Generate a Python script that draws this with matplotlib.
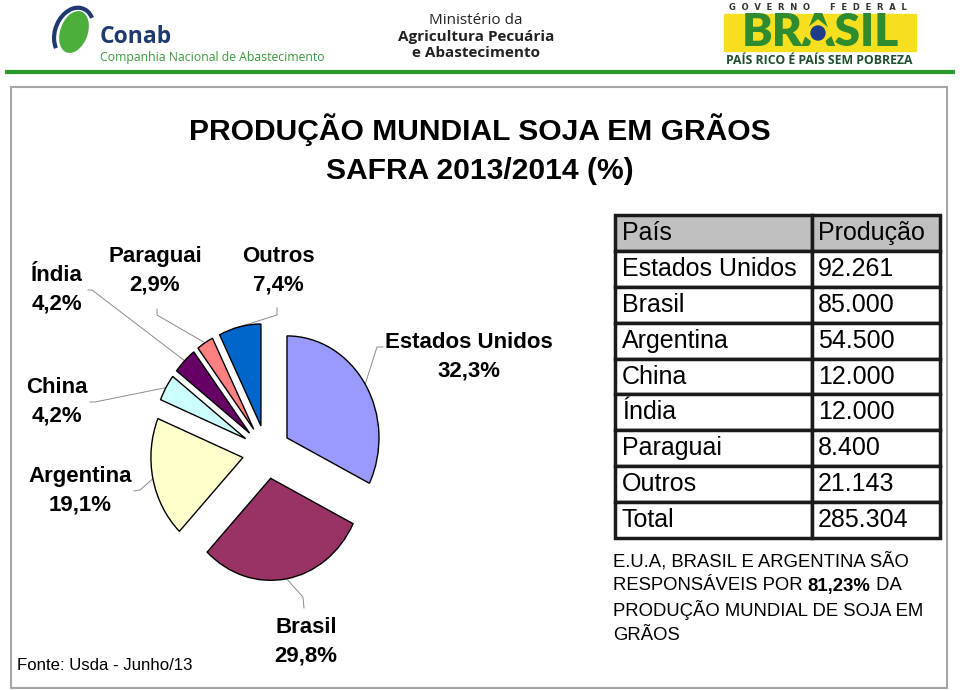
import matplotlib
matplotlib.use("Agg")
import matplotlib.pyplot as plt
from matplotlib.patches import Rectangle, Ellipse, Polygon, Arc
import numpy as np

# data
countries = ["Estados Unidos", "Brasil", "Argentina", "China", "Índia", "Paraguai", "Outros"]
production = [92261, 85000, 54500, 12000, 12000, 8400, 21143]
slice_colors = ["#9999FF", "#993366", "#FFFFCC", "#CCFFFF", "#660066", "#FF8080", "#0066CC"]
top_three = ["Estados Unidos", "Brasil", "Argentina"]

title_lines = ["PRODUÇÃO MUNDIAL SOJA EM GRÃOS", "SAFRA 2013/2014 (%)"]
source_text = "Fonte: Usda - Junho/13"

ARIAL = ["Liberation Sans", "DejaVu Sans"]
HEADER = ["Open Sans", "DejaVu Sans"]


def br_int(v):
    return f"{v:,}".replace(",", ".")


def br_pct(p, nd=1):
    return f"{p:.{nd}f}%".replace(".", ",")


# label anchor (text centre) and leader line points near the label, in pixels
label_pos = {
    "Estados Unidos": (469, 357),
    "Brasil": (306, 642),
    "Argentina": (80, 491),
    "China": (57, 402),
    "Índia": (57, 290),
    "Paraguai": (155, 271),
    "Outros": (278, 271),
}
leader_tail = {
    "Estados Unidos": [(377, 347), (383, 347)],
    "Brasil": [(303, 597), (304, 608)],
    "Argentina": [(140, 490), (134, 491)],
    "China": [(95, 402), (90, 402)],
    "Índia": [(92, 290), (88, 290)],
    "Paraguai": [(157, 315), (157, 309)],
    "Outros": [(277, 315), (277, 308)],
}

W, H = 960, 690
fig = plt.figure(figsize=(9.6, 6.9), dpi=100)
ax = fig.add_axes([0, 0, 1, 1])
ax.set_xlim(0, W)
ax.set_ylim(H, 0)
ax.axis("off")

# pie in its own axes, slightly taller than wide like the original
pcx, pcy, rx, ry = 266.5, 452, 92, 102
lim = 1.5
pax = fig.add_axes([(pcx - lim * rx) / W, (H - pcy - lim * ry) / H,
                    2 * lim * rx / W, 2 * lim * ry / H])
total = sum(production)
shares = [100 * v / total for v in production]
wedges, _ = pax.pie(
    production,
    colors=slice_colors,
    startangle=90,
    counterclock=False,
    radius=1,
    explode=[0.262] * len(production),
    wedgeprops=dict(edgecolor="black", linewidth=1.0),
)
pax.set_xlim(-lim, lim)
pax.set_ylim(-lim, lim)
pax.set_aspect("auto")
pax.axis("off")

to_main = pax.transData + ax.transData.inverted()
for w, name, pct in zip(wedges, countries, shares):
    tm = np.deg2rad(0.5 * (w.theta1 + w.theta2))
    cx, cy = w.center
    edge = to_main.transform((cx + w.r * np.cos(tm), cy + w.r * np.sin(tm)))
    pts = [edge] + leader_tail[name]
    ax.plot([p[0] for p in pts], [p[1] for p in pts], color="#8C8C8C", lw=0.7)
    lx, ly = label_pos[name]
    ax.text(lx, ly, f"{name}\n{br_pct(pct)}", ha="center", va="center",
            fontsize=16, fontweight="bold", family=ARIAL, linespacing=1.45)

# title
ax.text(480, 130, title_lines[0], ha="center", va="center", fontsize=21.6,
        fontweight="bold", family=ARIAL)
ax.text(480, 171, title_lines[1], ha="center", va="center", fontsize=21.6,
        fontweight="bold", family=ARIAL)

ax.text(17, 665, source_text, ha="left", va="center", fontsize=12.1, family=ARIAL)

# table
rows = [[c, br_int(v)] for c, v in zip(countries, production)] + [["Total", br_int(total)]]
tbl = ax.table(
    cellText=rows,
    colLabels=["País", "Produção"],
    cellLoc="left",
    colLoc="left",
    colWidths=[197, 128],
    bbox=[615 / W, 1 - 538 / H, 325 / W, 323 / H],
)
tbl.auto_set_font_size(False)
for (r, c), cell in tbl.get_celld().items():
    cell.set_linewidth(2.5)
    cell.set_edgecolor("#1a1a1a")
    cell.PAD = 0.035 if c == 0 else 0.045
    cell.get_text().set_fontsize(18)
    cell.get_text().set_fontfamily(ARIAL)
    if r == 0:
        cell.set_facecolor("#C0C0C0")

# note below table
top_share = 100 * sum(v for c, v in zip(countries, production) if c in top_three) / total
note_kw = dict(fontsize=13.3, family=ARIAL, ha="left", va="center")
ax.text(613, 561, "E.U.A, BRASIL E ARGENTINA SÃO", **note_kw)
t1 = ax.text(613, 586, "RESPONSÁVEIS POR ", **note_kw)
ax.text(613, 610, "PRODUÇÃO MUNDIAL DE SOJA EM", **note_kw)
ax.text(613, 635, "GRÃOS", **note_kw)
fig.canvas.draw()
inv = ax.transData.inverted()
x_end = inv.transform((t1.get_window_extent().x1, 0))[0]
t2 = ax.text(x_end, 586, br_pct(top_share, 2), fontweight="bold", **note_kw)
fig.canvas.draw()
x_end = inv.transform((t2.get_window_extent().x1, 0))[0]
ax.text(x_end, 586, " DA", **note_kw)

# frame and header
ax.add_patch(Rectangle((11, 87), 936, 601, fill=False, edgecolor="#A6A6A6", lw=1.5))
ax.plot([5, 955], [72, 72], color="#2C9A2C", lw=3, solid_capstyle="butt")

# Conab logo
ax.add_patch(Ellipse((74, 32), 26, 42, angle=20, color="#4CAF3C"))
ax.add_patch(Arc((74, 33), 38, 52, angle=20, theta1=120, theta2=300, color="#1F3A70", lw=3))
ax.text(100, 43, "Conab", fontsize=16.5, fontweight="bold", color="#1F3A70",
        family=HEADER, ha="left", va="baseline")
ax.text(100, 61, "Companhia Nacional de Abastecimento", fontsize=8.8, color="#3C9A3C",
        family=HEADER, ha="left", va="baseline")

# Ministerio
ax.text(476, 24, "Ministério da", fontsize=11, color="#222222", ha="center",
        va="baseline", family=HEADER)
ax.text(476, 41, "Agricultura Pecuária", fontsize=11, fontweight="bold", color="#222222",
        ha="center", va="baseline", family=HEADER)
ax.text(476, 57, "e Abastecimento", fontsize=11, fontweight="bold", color="#222222",
        ha="center", va="baseline", family=HEADER)

# Governo Federal
ax.text(818, 7, "G  O  V  E  R  N  O       F  E  D  E  R  A  L", fontsize=6, fontweight="bold",
        color="#333333", ha="center", va="center", family=["DejaVu Sans"])
ax.add_patch(Rectangle((724, 14), 192, 37, color="#F5DF1E"))
ax.text(820, 33, "BRASIL", fontsize=33, fontweight="heavy", color="#2E8B2E",
        ha="center", va="center", family=["Lato", "DejaVu Sans"])
ax.add_patch(Polygon([(802, 33), (818, 20), (834, 33), (818, 46)], color="#F5DF1E", zorder=3))
ax.add_patch(Ellipse((818, 33), 14, 14, color="#1E3C8C", zorder=4))
ax.text(819, 60, "PAÍS RICO É PAÍS SEM POBREZA", fontsize=8.8, fontweight="bold",
        color="#1F4F2F", ha="center", va="center", family=HEADER)

fig.savefig("out.png", dpi=100, facecolor="white")
